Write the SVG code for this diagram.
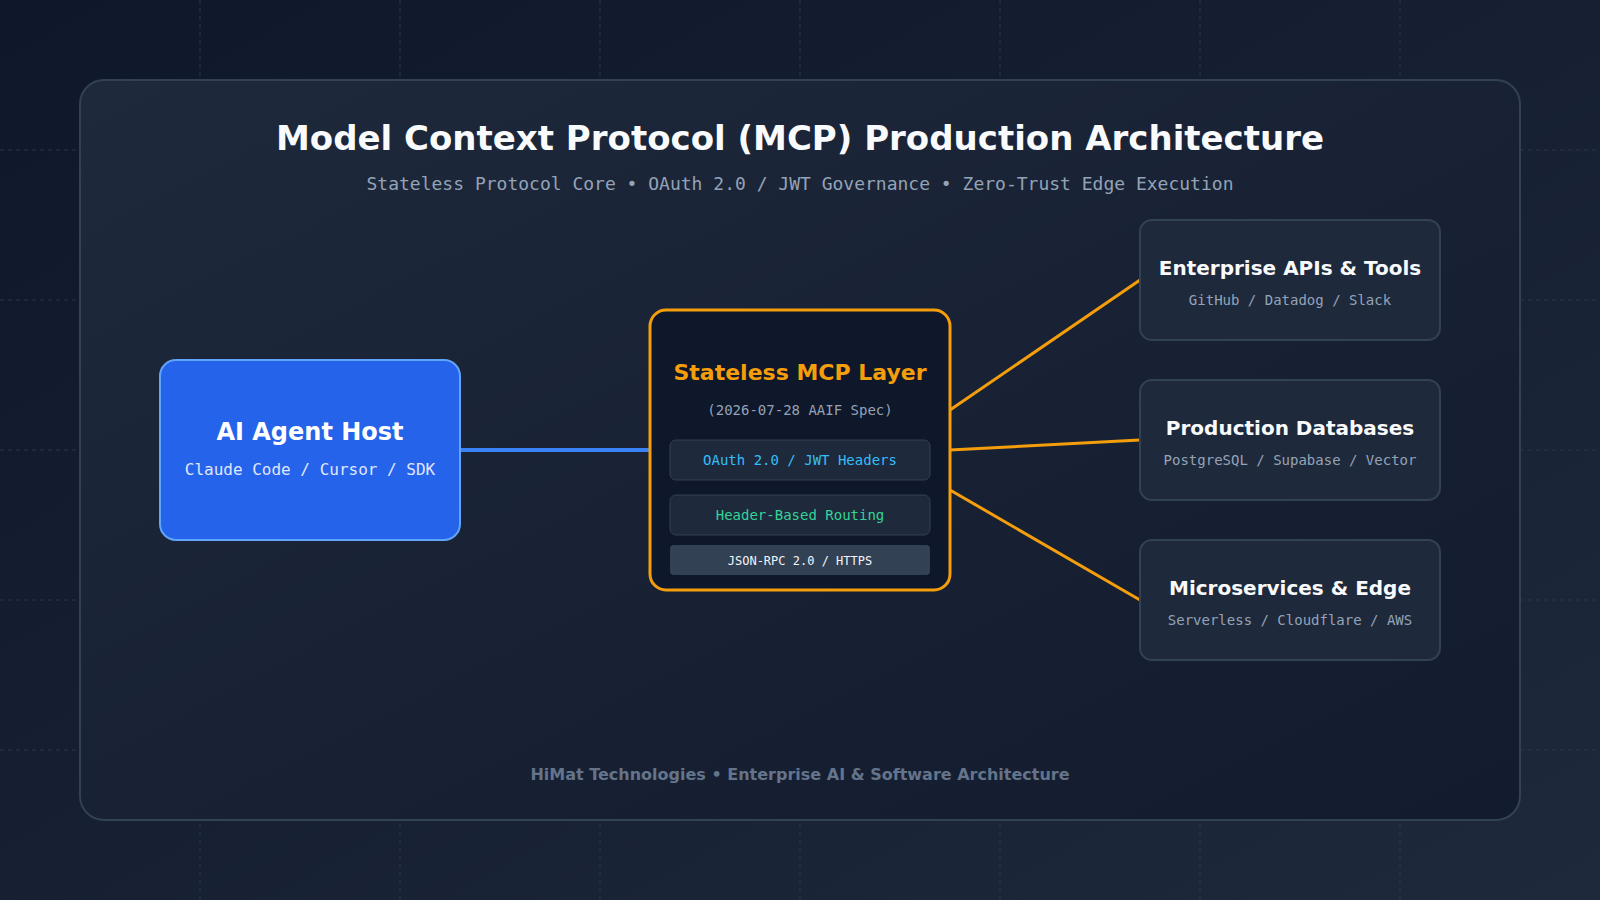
<svg xmlns="http://www.w3.org/2000/svg" width="1600" height="900" viewBox="0 0 1600 900">
<defs>
<linearGradient id="bg" x1="0" y1="0" x2="1" y2="1">
<stop offset="0" stop-color="#0f172a"/>
<stop offset="1" stop-color="#1e293b"/>
</linearGradient>
<linearGradient id="panel" x1="0" y1="0" x2="1" y2="1">
<stop offset="0" stop-color="#1e293b"/>
<stop offset="1" stop-color="#131b2e"/>
</linearGradient>
<style>
.grid{stroke:#2a364a;stroke-width:1;stroke-dasharray:4 4}
.t{font-family:"DejaVu Sans",sans-serif;font-weight:bold;text-anchor:middle}
.m{font-family:"DejaVu Sans Mono",monospace;text-anchor:middle}
.box{fill:#1e293b;stroke:#334155;stroke-width:2}
.inner{fill:#1e293b;stroke:#334155;stroke-width:1}
.edge{stroke:#f59e0b;stroke-width:3;fill:none}
</style>
</defs>
<rect width="1600" height="900" fill="url(#bg)"/>
<g id="grid">
<line class="grid" x1="200" y1="0" x2="200" y2="900"/>
<line class="grid" x1="400" y1="0" x2="400" y2="900"/>
<line class="grid" x1="600" y1="0" x2="600" y2="900"/>
<line class="grid" x1="800" y1="0" x2="800" y2="900"/>
<line class="grid" x1="1000" y1="0" x2="1000" y2="900"/>
<line class="grid" x1="1200" y1="0" x2="1200" y2="900"/>
<line class="grid" x1="1400" y1="0" x2="1400" y2="900"/>
<line class="grid" x1="0" y1="150" x2="1600" y2="150"/>
<line class="grid" x1="0" y1="300" x2="1600" y2="300"/>
<line class="grid" x1="0" y1="450" x2="1600" y2="450"/>
<line class="grid" x1="0" y1="600" x2="1600" y2="600"/>
<line class="grid" x1="0" y1="750" x2="1600" y2="750"/>
</g>
<rect x="80" y="80" width="1440" height="740" rx="24" fill="url(#panel)" stroke="#334155" stroke-width="2"/>
<text class="t" x="800" y="150" font-size="34" fill="#f8fafc">Model Context Protocol (MCP) Production Architecture</text>
<text class="m" x="800" y="190" font-size="18" fill="#94a3b8">Stateless Protocol Core • OAuth 2.0 / JWT Governance • Zero-Trust Edge Execution</text>
<g id="connectors">
<line x1="460" y1="450" x2="650" y2="450" stroke="#3b82f6" stroke-width="4"/>
<line class="edge" x1="950" y1="410" x2="1140" y2="280"/>
<line class="edge" x1="950" y1="450" x2="1140" y2="440"/>
<line class="edge" x1="950" y1="490" x2="1140" y2="600"/>
</g>
<g id="host">
<rect x="160" y="360" width="300" height="180" rx="16" fill="#2563eb" stroke="#60a5fa" stroke-width="2"/>
<text class="t" x="310" y="440" font-size="24" fill="#ffffff">AI Agent Host</text>
<text class="m" x="310" y="475" font-size="16" fill="#e0e7ff">Claude Code / Cursor / SDK</text>
</g>
<g id="mcp">
<rect x="650" y="310" width="300" height="280" rx="16" fill="#0f172a" stroke="#f59e0b" stroke-width="3"/>
<text class="t" x="800" y="380" font-size="22" fill="#f59e0b">Stateless MCP Layer</text>
<text class="m" x="800" y="415" font-size="14" fill="#94a3b8">(2026-07-28 AAIF Spec)</text>
<rect class="inner" x="670" y="440" width="260" height="40" rx="6"/>
<text class="m" x="800" y="465" font-size="14" fill="#38bdf8">OAuth 2.0 / JWT Headers</text>
<rect class="inner" x="670" y="495" width="260" height="40" rx="6"/>
<text class="m" x="800" y="520" font-size="14" fill="#34d399">Header-Based Routing</text>
<rect x="670" y="545" width="260" height="30" rx="4" fill="#334155"/>
<text class="m" x="800" y="565" font-size="12" fill="#f1f5f9">JSON-RPC 2.0 / HTTPS</text>
</g>
<g id="apis">
<rect class="box" x="1140" y="220" width="300" height="120" rx="12"/>
<text class="t" x="1290" y="275" font-size="20" fill="#f8fafc">Enterprise APIs &amp; Tools</text>
<text class="m" x="1290" y="305" font-size="14" fill="#94a3b8">GitHub / Datadog / Slack</text>
</g>
<g id="db">
<rect class="box" x="1140" y="380" width="300" height="120" rx="12"/>
<text class="t" x="1290" y="435" font-size="20" fill="#f8fafc">Production Databases</text>
<text class="m" x="1290" y="465" font-size="14" fill="#94a3b8">PostgreSQL / Supabase / Vector</text>
</g>
<g id="edge">
<rect class="box" x="1140" y="540" width="300" height="120" rx="12"/>
<text class="t" x="1290" y="595" font-size="20" fill="#f8fafc">Microservices &amp; Edge</text>
<text class="m" x="1290" y="625" font-size="14" fill="#94a3b8">Serverless / Cloudflare / AWS</text>
</g>
<text class="t" x="800" y="780" font-size="16" fill="#64748b">HiMat Technologies • Enterprise AI &amp; Software Architecture</text>
</svg>
